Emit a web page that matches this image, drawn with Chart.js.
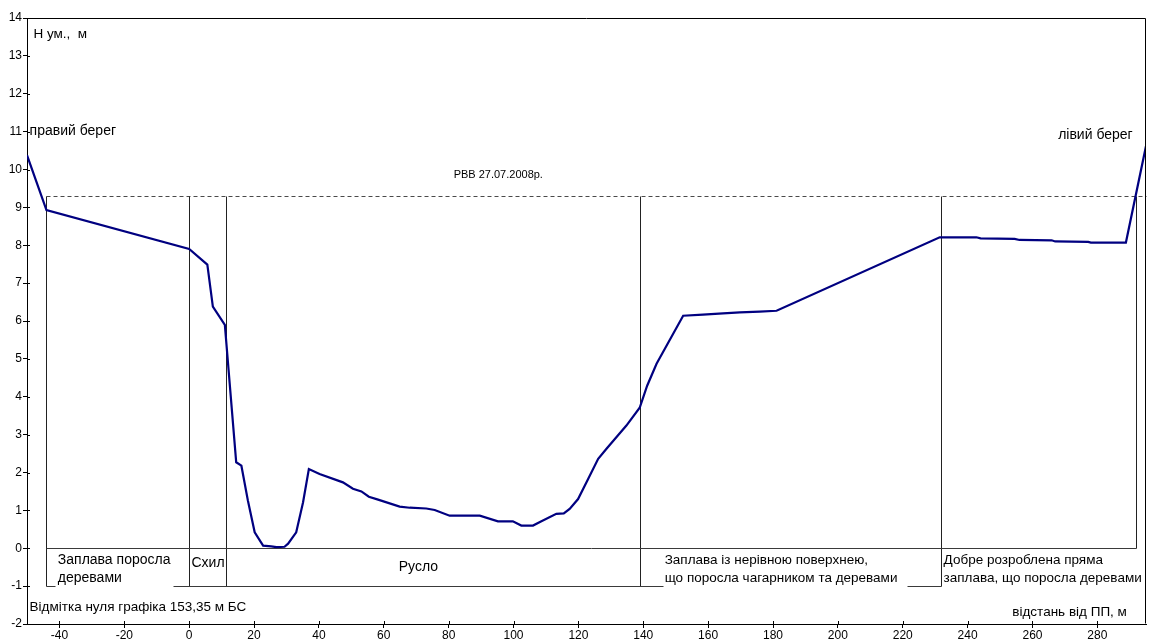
<!DOCTYPE html>
<html>
<head>
<meta charset="utf-8">
<script src="https://cdn.jsdelivr.net/npm/chart.js@4/dist/chart.umd.min.js"></script>
<style>
  html, body { margin: 0; padding: 0; background: #fff; }
  canvas { display: block; }
</style>
</head>
<body>
<canvas id="profile" width="1152" height="639"></canvas>
<script>
// Cross-section profile: distance from the station point (m) and conditional elevation (m)
const profileX = [-50, -44, 0, 5.6, 7.3, 11, 14.5, 16.1, 18.1, 20.2, 22.8, 25.3, 26.9, 29.4, 30.5,
  33, 35.1, 36.9, 40.2, 47.4, 50.5, 53.1, 55.4, 58, 64.9, 68, 73.1, 75.7, 80.3, 89.6, 95.2,
  99.8, 102.4, 106, 108.6, 113.2, 115.5, 117.3, 119.9, 123, 126.1, 128.6, 131.7, 134.8, 138.9,
  141.2, 144.1, 152.3, 158.4, 164.6, 169.8, 175.9, 181.1, 231.4, 242.7, 244, 254.5, 256, 265.9,
  267, 277.2, 278, 288.8, 295];
const profileY = [10.38, 8.93, 7.9, 7.49, 6.38, 5.9, 2.27, 2.18, 1.26, 0.42, 0.07, 0.05, 0.03, 0.04, 0.12,
  0.42, 1.21, 2.09, 1.96, 1.74, 1.57, 1.5, 1.36, 1.29, 1.1, 1.07, 1.05, 1.01, 0.86, 0.86, 0.71,
  0.71, 0.6, 0.6, 0.71, 0.91, 0.92, 1.04, 1.3, 1.83, 2.36, 2.62, 2.93, 3.24, 3.71,
  4.29, 4.87, 6.14, 6.17, 6.2, 6.23, 6.25, 6.27, 8.21, 8.21, 8.18, 8.17, 8.14, 8.13,
  8.1, 8.09, 8.07, 8.07, 10.62];

// Water level line (РВВ 27.07.2008) and its extent
const waterLevel = 9.31;
const waterFrom = -44, waterTo = 295;

// Boundaries of the cross-section parts (floodplain, slope, channel, floodplains)
const sectionX = [-44, 0, 11.2, 138.9, 231.9];
const bankX = 291.9;           // left-bank boundary, reaches down to the zero line
const zeroLineFrom = -44, zeroLineTo = 291.9;
// Lower bracket line at -1, broken where part names are written
const lowerLine = -1;
const lowerSegments = [[-44, -41.5], [-5.1, 146.0], [221.3, 231.9]];

// Axis ticks
const xTicks = [-40, -20, 0, 20, 40, 60, 80, 100, 120, 140, 160, 180, 200, 220, 240, 260, 280];
const yTicks = [-2, -1, 0, 1, 2, 3, 4, 5, 6, 7, 8, 9, 10, 11, 12, 13, 14];

const FONT = '"Liberation Sans", Arial, sans-serif';

// Text notes placed in axis units
const notes = [
  { lines: ['Н ум.,  м'], x: -48, y: 13.58, align: 'left', size: 13.5 },
  { lines: ['правий берег'], x: -49.2, y: 11.0, align: 'left', size: 14 },
  { lines: ['лівий берег'], x: 290.9, y: 10.92, align: 'right', size: 14 },
  { lines: ['РВВ 27.07.2008р.'], x: 95.3, y: 9.86, align: 'center', size: 11 },
  { lines: ['Заплава поросла', 'деревами'], x: -40.5, y: -0.32, align: 'left', size: 14 },
  { lines: ['Схил'], x: 0.7, y: -0.4, align: 'left', size: 14 },
  { lines: ['Русло'], x: 64.6, y: -0.5, align: 'left', size: 14 },
  { lines: ['Заплава із нерівною поверхнею,', 'що поросла чагарником та деревами'], x: 146.6, y: -0.32, align: 'left', size: 13.5 },
  { lines: ['Добре розроблена пряма', 'заплава, що поросла деревами'], x: 232.6, y: -0.32, align: 'left', size: 13.5 },
  { lines: ['Відмітка нуля графіка 153,35 м БС'], x: -49.2, y: -1.56, align: 'left', size: 13.5 },
  { lines: ['відстань від ПП, м'], x: 289.1, y: -1.7, align: 'right', size: 13.5 }
];
const lineStep = 0.48; // spacing between note lines, in axis units

const profileData = profileX.map((x, i) => ({ x, y: profileY[i] }));

// Thin structure lines: section boundaries, water level, zero and lower bracket lines
const structure = {
  id: 'structure',
  beforeDatasetsDraw(chart) {
    const { ctx, scales: { x, y } } = chart;
    const px = v => Math.round(x.getPixelForValue(v)) + 0.5;
    const py = v => Math.round(y.getPixelForValue(v)) + 0.5;
    ctx.save();
    ctx.lineWidth = 1;

    ctx.strokeStyle = '#4a4a4a';
    ctx.setLineDash([4, 3]);
    ctx.beginPath();
    ctx.moveTo(px(waterFrom), py(waterLevel));
    ctx.lineTo(px(waterTo), py(waterLevel));
    ctx.stroke();
    ctx.setLineDash([]);

    ctx.strokeStyle = '#222';
    ctx.beginPath();
    sectionX.forEach(v => {
      ctx.moveTo(px(v), py(waterLevel));
      ctx.lineTo(px(v), py(lowerLine));
    });
    ctx.moveTo(px(bankX), py(waterLevel));
    ctx.lineTo(px(bankX), py(0));
    ctx.stroke();

    ctx.strokeStyle = '#3a3a3a';
    ctx.beginPath();
    ctx.moveTo(px(zeroLineFrom), py(0));
    ctx.lineTo(px(zeroLineTo), py(0));
    lowerSegments.forEach(s => {
      ctx.moveTo(px(s[0]), py(lowerLine));
      ctx.lineTo(px(s[1]), py(lowerLine));
    });
    ctx.stroke();
    ctx.restore();
  }
};

// Frame, inner tick marks and text notes
const decorations = {
  id: 'decorations',
  afterDatasetsDraw(chart) {
    const { ctx, chartArea: a, scales: { x, y } } = chart;
    ctx.save();
    ctx.strokeStyle = '#000';
    ctx.lineWidth = 1;
    ctx.beginPath();
    ctx.moveTo(Math.round(a.left) + 0.5, Math.round(a.top) + 0.5);
    ctx.lineTo(Math.round(a.right) - 0.5, Math.round(a.top) + 0.5);
    ctx.lineTo(Math.round(a.right) - 0.5, Math.round(a.bottom) - 0.5);
    ctx.stroke();
    ctx.beginPath();
    yTicks.forEach(v => {
      const py = Math.round(y.getPixelForValue(v)) + 0.5;
      ctx.moveTo(a.left, py); ctx.lineTo(a.left + 3, py);
    });
    xTicks.forEach(v => {
      const px = Math.round(x.getPixelForValue(v)) + 0.5;
      ctx.moveTo(px, a.bottom); ctx.lineTo(px, a.bottom - 3);
    });
    ctx.stroke();

    ctx.fillStyle = '#000';
    ctx.textBaseline = 'middle';
    notes.forEach(n => {
      ctx.font = n.size + 'px ' + FONT;
      ctx.textAlign = n.align;
      n.lines.forEach((t, i) => {
        ctx.fillText(t, x.getPixelForValue(n.x), y.getPixelForValue(n.y - i * lineStep));
      });
    });
    ctx.restore();
  }
};

new Chart(document.getElementById('profile'), {
  type: 'scatter',
  data: {
    datasets: [{
      data: profileData,
      showLine: true,
      borderColor: '#000080',
      backgroundColor: '#000080',
      borderWidth: 2.2,
      pointRadius: 0,
      pointHoverRadius: 0,
      fill: false,
      tension: 0
    }]
  },
  options: {
    responsive: false,
    animation: false,
    events: [],
    layout: { padding: { top: 18, right: 6, left: 0, bottom: 0 } },
    plugins: { legend: { display: false }, tooltip: { enabled: false } },
    scales: {
      x: {
        type: 'linear',
        min: -50,
        max: 295,
        afterBuildTicks: s => { s.ticks = xTicks.map(v => ({ value: v })); },
        afterFit: s => { s.height = 15; },
        grid: { drawOnChartArea: false, drawTicks: true, tickLength: 4, color: '#000' },
        border: { color: '#000', width: 1 },
        ticks: {
          color: '#000', padding: 0, maxRotation: 0, autoSkip: false,
          font: { family: FONT, size: 12 },
          callback: v => String(v)
        }
      },
      y: {
        type: 'linear',
        min: -2,
        max: 14,
        afterBuildTicks: s => { s.ticks = yTicks.map(v => ({ value: v })); },
        afterFit: s => { s.width = 27; },
        grid: { drawOnChartArea: false, drawTicks: true, tickLength: 4, color: '#000' },
        border: { color: '#000', width: 1 },
        ticks: {
          color: '#000', padding: 1, autoSkip: false,
          font: { family: FONT, size: 12 },
          callback: v => String(v)
        }
      }
    }
  },
  plugins: [structure, decorations]
});
</script>
</body>
</html>
